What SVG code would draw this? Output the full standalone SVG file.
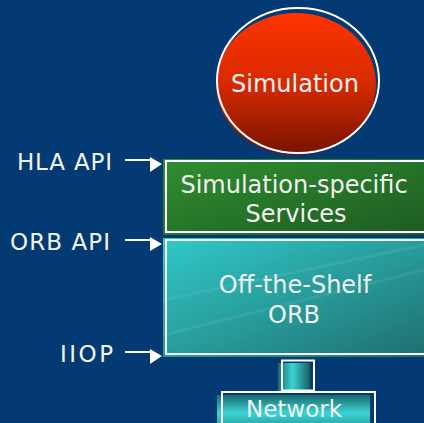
<svg xmlns="http://www.w3.org/2000/svg" width="424" height="423" viewBox="0 0 424 423">
<defs>
<linearGradient id="red" x1="0" y1="0" x2="0" y2="1">
<stop offset="0" stop-color="#ff3300"/>
<stop offset="0.5" stop-color="#d72a00"/>
<stop offset="1" stop-color="#761300"/>
</linearGradient>
<linearGradient id="green" x1="0" y1="0" x2="1" y2="1">
<stop offset="0" stop-color="#2f8f2f"/>
<stop offset="1" stop-color="#1d5a22"/>
</linearGradient>
<linearGradient id="teal" x1="0" y1="0" x2="1" y2="1">
<stop offset="0" stop-color="#31c9c9"/>
<stop offset="1" stop-color="#1f6e6e"/>
</linearGradient>
<linearGradient id="cylH" x1="0" y1="0" x2="1" y2="0">
<stop offset="0" stop-color="#1a6a6a"/>
<stop offset="0.45" stop-color="#3ad4d4"/>
<stop offset="1" stop-color="#175e60"/>
</linearGradient>
<linearGradient id="cylV" x1="0" y1="0" x2="0" y2="1">
<stop offset="0" stop-color="#1a6a6a"/>
<stop offset="0.6" stop-color="#3ad4d4"/>
<stop offset="1" stop-color="#2aa8a8"/>
</linearGradient>
</defs>
<style>
.lbl{font-family:"DejaVu Sans",Verdana,sans-serif;font-size:23px;fill:#f2f2f2}
.txt{font-family:"DejaVu Sans",Verdana,sans-serif;font-size:24px;fill:#f2f2f2;text-anchor:middle}
.frame{fill:none;stroke:#ffffff;stroke-width:2}
.ln{stroke:#ffffff;stroke-width:2;fill:none}
.head{fill:#ffffff}
</style>
<rect x="0" y="0" width="424" height="423" fill="#033a73"/>

<g id="simulation">
<ellipse cx="296" cy="84" rx="80" ry="71" fill="url(#red)"/>
<ellipse cx="298" cy="80.5" rx="81" ry="72.5" class="frame"/>
<text x="295" y="92" class="txt">Simulation</text>
</g>

<g id="services">
<rect x="163" y="159" width="270" height="76" fill="url(#green)"/>
<rect x="166" y="161" width="270" height="71" class="frame"/>
<text x="294" y="193" class="txt">Simulation-specific</text>
<text x="296" y="221.5" class="txt">Services</text>
</g>

<g id="orb">
<rect x="163" y="238" width="270" height="119" fill="url(#teal)"/>
<g stroke="#ffffff" stroke-opacity="0.07" stroke-width="3">
<line x1="163" y1="300" x2="424" y2="245"/>
<line x1="163" y1="335" x2="424" y2="270"/>
</g>
<rect x="166" y="240" width="270" height="114" class="frame"/>
<text x="295" y="293" class="txt">Off-the-Shelf</text>
<text x="294" y="323" class="txt">ORB</text>
</g>

<g id="link">
<rect x="278" y="363" width="32" height="30" fill="url(#cylH)"/>
<rect x="282" y="360.5" width="32" height="30" class="frame"/>
</g>

<g id="network">
<rect x="217" y="395" width="153" height="30" fill="url(#cylV)"/>
<rect x="222" y="392" width="153" height="35" class="frame"/>
<text x="294" y="417" class="txt" style="font-size:23px">Network</text>
</g>

<g id="hla-api">
<text x="17" y="170" class="lbl" textLength="95" lengthAdjust="spacing">HLA API</text>
</g>
<g id="orb-api">
<text x="10" y="250" class="lbl" textLength="100" lengthAdjust="spacing">ORB API</text>
</g>
<g id="iiop">
<text x="60" y="362" class="lbl" textLength="53" lengthAdjust="spacing">IIOP</text>
</g>

<g id="connectors">
<line x1="125" y1="160" x2="151" y2="160" class="ln"/>
<polygon points="150,157 162,164 150,172" class="head"/>
<line x1="125" y1="240" x2="151" y2="240" class="ln"/>
<polygon points="150,237 162,244 150,251" class="head"/>
<line x1="125" y1="352" x2="151" y2="352" class="ln"/>
<polygon points="150,349 162,356 150,364" class="head"/>
</g>
</svg>
